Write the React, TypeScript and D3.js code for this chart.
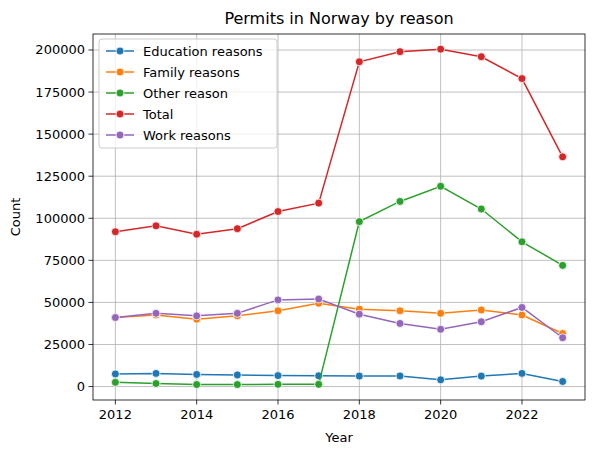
import React from "react";
import * as d3 from "d3";

const years = [2012, 2013, 2014, 2015, 2016, 2017, 2018, 2019, 2020, 2021, 2022, 2023];
const education = [7500, 7800, 7200, 6900, 6500, 6400, 6200, 6300, 4000, 6200, 7800, 3000];
const family = [41000, 42500, 40000, 42000, 45000, 49500, 46000, 45000, 43500, 45500, 42500, 31500];
const other = [2500, 1800, 1200, 1200, 1300, 1300, 98000, 110000, 119000, 105500, 86000, 72000];
const total = [92000, 95500, 90500, 93800, 104000, 109000, 193000, 199000, 200500, 196000, 183000, 136500];
const work = [41000, 43500, 42000, 43500, 51500, 52000, 43000, 37500, 34000, 38500, 47000, 29000];
const xTicks = [2012, 2014, 2016, 2018, 2020, 2022];
const yTicks = [0, 25000, 50000, 75000, 100000, 125000, 150000, 175000, 200000];

const series = [
  { name: "Education reasons", values: education, color: "#1f77b4" },
  { name: "Family reasons", values: family, color: "#ff7f0e" },
  { name: "Other reason", values: other, color: "#2ca02c" },
  { name: "Total", values: total, color: "#d62728" },
  { name: "Work reasons", values: work, color: "#9467bd" },
];

const W = 597, H = 455;
const m = { left: 93, right: 585, top: 34, bottom: 400 };

export default function App() {
  const x = d3.scaleLinear().domain([2011.45, 2023.55]).range([m.left, m.right]);
  const y = d3.scaleLinear().domain([-8000, 209500]).range([m.bottom, m.top]);
  const line = d3.line<number>().x((_, i) => x(years[i])).y(d => y(d));
  return (
    <svg width={W} height={H} style={{ position: "absolute", left: 0, top: 0, fontFamily: "DejaVu Sans" }}>
      <rect width={W} height={H} fill="white" />
      {xTicks.map(t => (
        <g key={t}>
          <line x1={x(t)} x2={x(t)} y1={m.top} y2={m.bottom} stroke="#b0b0b0" strokeWidth={0.8} />
          <line x1={x(t)} x2={x(t)} y1={m.bottom} y2={m.bottom + 4.5} stroke="black" strokeWidth={0.8} />
          <text x={x(t)} y={m.bottom + 19} textAnchor="middle" fontSize={13}>{t}</text>
        </g>
      ))}
      {yTicks.map(t => (
        <g key={t}>
          <line x1={m.left} x2={m.right} y1={y(t)} y2={y(t)} stroke="#b0b0b0" strokeWidth={0.8} />
          <line x1={m.left - 4.5} x2={m.left} y1={y(t)} y2={y(t)} stroke="black" strokeWidth={0.8} />
          <text x={m.left - 8} y={y(t) + 4.5} textAnchor="end" fontSize={13}>{t}</text>
        </g>
      ))}
      {series.map(s => (
        <g key={s.name}>
          <path d={line(s.values) || ""} fill="none" stroke={s.color} strokeWidth={1.5} />
          {s.values.map((v, i) => (
            <circle key={i} cx={x(years[i])} cy={y(v)} r={4} fill={s.color} stroke="white" strokeWidth={0.8} />
          ))}
        </g>
      ))}
      <rect x={m.left} y={m.top} width={m.right - m.left} height={m.bottom - m.top} fill="none" stroke="black" strokeWidth={0.8} />
      <g>
        <rect x={99} y={39} width={178} height={109} fill="white" fillOpacity={0.8} stroke="#cccccc" rx={3} />
        {series.map((s, i) => (
          <g key={s.name} transform={`translate(0, ${51 + i * 21})`}>
            <line x1={106} x2={134} y1={0} y2={0} stroke={s.color} strokeWidth={1.5} />
            <circle cx={120} cy={0} r={4} fill={s.color} stroke="white" strokeWidth={0.8} />
            <text x={143} y={4.5} fontSize={13}>{s.name}</text>
          </g>
        ))}
      </g>
      <text x={(m.left + m.right) / 2} y={24} textAnchor="middle" fontSize={16}>Permits in Norway by reason</text>
      <text x={(m.left + m.right) / 2} y={442} textAnchor="middle" fontSize={13}>Year</text>
      <text transform={`translate(20, ${(m.top + m.bottom) / 2}) rotate(-90)`} textAnchor="middle" fontSize={13}>Count</text>
    </svg>
  );
}
